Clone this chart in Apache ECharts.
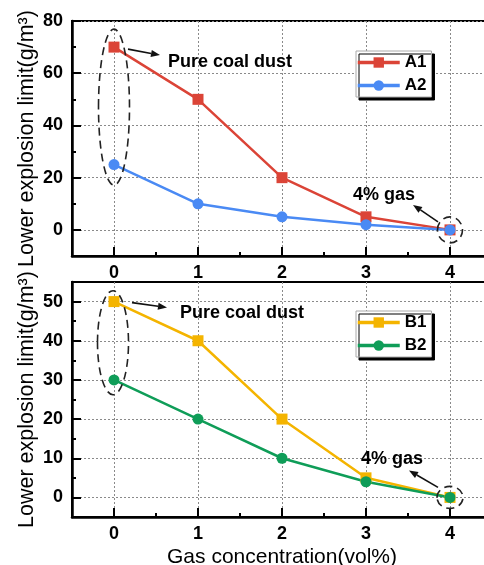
<!DOCTYPE html>
<html><head><meta charset="utf-8">
<script src="https://cdn.jsdelivr.net/npm/echarts@6/dist/echarts.min.js"></script>
<style>html,body{margin:0;padding:0;background:#fff}#c{width:484px;height:565px}</style>
</head><body><div id="c"></div>
<script>
// ---- data ----
const gas = [0, 1, 2, 3, 4];
const A1 = [70, 50, 20, 5, 0];
const A2 = [25, 10, 5, 2, 0];
const B1 = [50, 40, 20, 5, 0];
const B2 = [30, 20, 10, 4, 0];
const xTickLabels = [0, 1, 2, 3, 4];
const yTickTop = [0, 20, 40, 60, 80];
const yTickBottom = [0, 10, 20, 30, 40, 50];

const FONT = '"Liberation Sans", Arial, sans-serif';
const pair = ys => gas.map((x, i) => [x, ys[i]]);

function xAxes(gi, name) {
  return [{
    type: 'value', gridIndex: gi, min: -0.5, max: 4.5, interval: 0.5, position: 'bottom',
    axisLine: {show: true, onZero: false, lineStyle: {color: '#000', width: 2.5}},
    axisTick: {show: true, inside: true, length: 9, customValues: xTickLabels, lineStyle: {color: '#000', width: 2}},
    axisLabel: {show: true, customValues: xTickLabels, margin: 8, color: '#000', fontFamily: FONT, fontWeight: 'bold', fontSize: 18},
    splitLine: {show: true, lineStyle: {color: '#8a8a8a', type: [2, 2], width: 1}},
    name: name, nameLocation: 'middle', nameGap: 30, nameMoveOverlap: false,
    nameTextStyle: {color: '#000', fontFamily: FONT, fontSize: 21}
  }, {
    type: 'value', gridIndex: gi, min: -0.5, max: 4.5, interval: 0.5, position: 'bottom',
    axisLine: {show: false, onZero: false},
    axisTick: {show: true, inside: true, length: 4, lineStyle: {color: '#000', width: 2}},
    axisLabel: {show: false}, splitLine: {show: false}
  }];
}
function yAxes(gi, min, max, step, ticks) {
  return [{
    type: 'value', gridIndex: gi, min: min, max: max, interval: step, position: 'left',
    axisLine: {show: true, onZero: false, lineStyle: {color: '#000', width: 2.5}},
    axisTick: {show: true, inside: true, length: 9, customValues: ticks, lineStyle: {color: '#000', width: 2}},
    axisLabel: {show: true, customValues: ticks, margin: 9, color: '#000', fontFamily: FONT, fontWeight: 'bold', fontSize: 18},
    splitLine: {show: true, lineStyle: {color: '#8a8a8a', type: [2, 2], width: 1}},
    name: 'Lower explosion limit(g/m³)', nameLocation: 'middle', nameGap: 34, nameMoveOverlap: false,
    nameTextStyle: {color: '#000', fontFamily: FONT, fontSize: 21.5}
  }, {
    type: 'value', gridIndex: gi, min: min, max: max, interval: step, position: 'left',
    axisLine: {show: false, onZero: false},
    axisTick: {show: true, inside: true, length: 4, lineStyle: {color: '#000', width: 2}},
    axisLabel: {show: false}, splitLine: {show: false}
  }];
}
function series(name, data, color, symbol, xi, yi) {
  return {
    name: name, type: 'line', data: pair(data), xAxisIndex: xi, yAxisIndex: yi,
    symbol: symbol, symbolSize: 11, color: color,
    lineStyle: {color: color, width: 2.5}, itemStyle: {color: color},
    emphasis: {disabled: true}, animation: false
  };
}
function legend(names, top) {
  return {
    data: names, orient: 'vertical', left: 356, top: top,
    itemWidth: 42, itemHeight: 13, itemGap: 6, padding: [3, 5, 3, 0],
    backgroundColor: '#fff', borderColor: '#aaa', borderWidth: 1,
    shadowColor: '#000', shadowOffsetX: 3, shadowOffsetY: 3, shadowBlur: 0,
    lineStyle: {width: 3.5},
    textStyle: {fontFamily: FONT, fontWeight: 'bold', fontSize: 17, color: '#000'}
  };
}

const chart = echarts.init(document.getElementById('c'), null, {renderer: 'canvas'});
chart.setOption({
  animation: false,
  backgroundColor: '#fff',
  grid: [
    {left: 72, top: 21, width: 420, height: 235, show: true, borderColor: '#000', borderWidth: 2, containLabel: false, outerBoundsMode: 'none'},
    {left: 72, top: 282, width: 420, height: 235, show: true, borderColor: '#000', borderWidth: 2, containLabel: false, outerBoundsMode: 'none'}
  ],
  xAxis: [...xAxes(0, ''), ...xAxes(1, 'Gas concentration(vol%)')],
  yAxis: [...yAxes(0, -10, 80, 10, yTickTop), ...yAxes(1, -5, 55, 5, yTickBottom)],
  legend: [legend(['A1', 'A2'], 51), legend(['B1', 'B2'], 311)],
  series: [
    series('A1', A1, '#db4437', 'rect', 0, 0),
    series('A2', A2, '#4a8af4', 'circle', 0, 0),
    series('B1', B1, '#f4b400', 'rect', 2, 2),
    series('B2', B2, '#0f9d58', 'circle', 2, 2)
  ]
});

// ---- annotations (anchored to data points) ----
function px(g, x, y) {
  return chart.convertToPixel({xAxisIndex: g * 2, yAxisIndex: g * 2}, [x, y]);
}
function arrow(x1, y1, x2, y2) {
  const dx = x2 - x1, dy = y2 - y1, L = Math.hypot(dx, dy), ux = dx / L, uy = dy / L;
  const hl = 9, hw = 3.5, bx = x2 - ux * hl, by = y2 - uy * hl;
  return [
    {type: 'line', shape: {x1: x1, y1: y1, x2: bx, y2: by}, style: {stroke: '#111', lineWidth: 1.6}, z: 50},
    {type: 'polygon', shape: {points: [[x2, y2], [bx - uy * hw, by + ux * hw], [bx + uy * hw, by - ux * hw]]}, style: {fill: '#111'}, z: 50}
  ];
}
function ell(cx, cy, rx, ry) {
  return {type: 'ellipse', shape: {cx: cx, cy: cy, rx: rx, ry: ry},
    style: {fill: 'none', stroke: '#222', lineWidth: 1.6, lineDash: [8, 5]}, z: 50};
}
function txt(x, y, s) {
  return {type: 'text', x: x, y: y, style: {text: s, fill: '#000', font: 'bold 18px ' + FONT, align: 'left', verticalAlign: 'middle'}, z: 50};
}
const g = [];
// top plot
let p = px(0, 0, 70), q = px(0, 4, 0), c = px(0, 0, 47);
g.push(ell(c[0], c[1], 15.5, 78));
g.push(...arrow(p[0] + 14, p[1] + 2, p[0] + 46, p[1] + 8));
g.push(txt(p[0] + 54, p[1] + 15, 'Pure coal dust'));
g.push(ell(q[0], q[1], 12.5, 13));
g.push(...arrow(q[0] - 12, q[1] - 8, q[0] - 37, q[1] - 25));
g.push(txt(q[0] - 97, q[1] - 35, '4% gas'));
// bottom plot
p = px(1, 0, 50); q = px(1, 4, 0); c = px(1, 0, 39.5);
g.push(ell(c[0] - 1, c[1], 15.5, 52));
g.push(...arrow(p[0] + 18, p[1] + 1, p[0] + 53, p[1] + 6));
g.push(txt(p[0] + 66, p[1] + 11, 'Pure coal dust'));
g.push(ell(q[0], q[1], 13, 11));
g.push(...arrow(q[0] - 12, q[1] - 10, q[0] - 41, q[1] - 27));
g.push(txt(q[0] - 89, q[1] - 38, '4% gas'));
chart.setOption({graphic: g});
</script>
</body></html>
